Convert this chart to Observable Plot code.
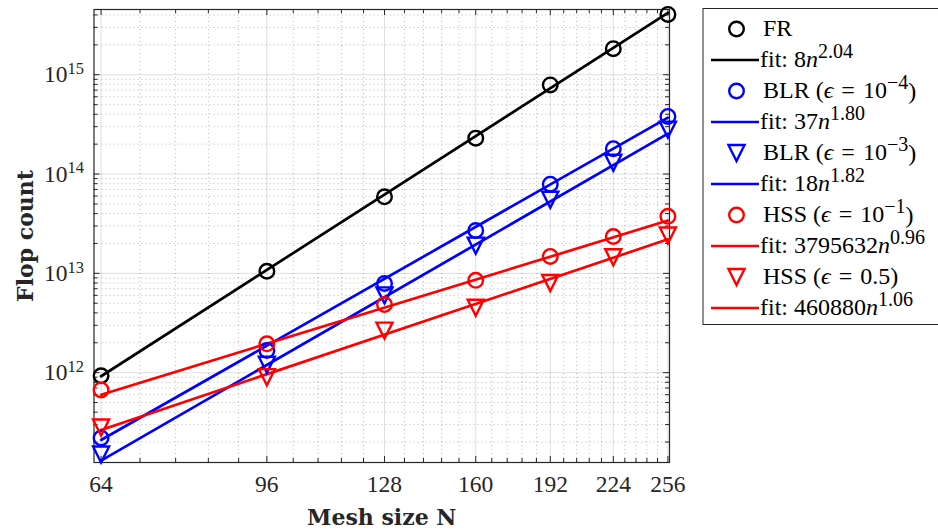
<!DOCTYPE html>
<html>
<head>
<meta charset="utf-8">
<script src="https://cdn.jsdelivr.net/npm/d3@7"></script>
<script src="https://cdn.jsdelivr.net/npm/@observablehq/plot@0.6"></script>
<style>
  html, body { margin: 0; padding: 0; background: #fff; }
  #chart svg { display: block; }
</style>
</head>
<body>
<div id="chart"></div>
<script>
// ---------------- data ----------------
const meshSizes = [64, 96, 128, 160, 192, 224, 256];

const flopsFR     = [9.3e11, 1.05e13, 5.9e13, 2.3e14, 7.9e14, 1.83e15, 4.05e15];
const flopsBLR4   = [2.2e11, 1.67e12, 7.9e12, 2.7e13, 7.9e13, 1.8e14, 3.8e14];
const flopsBLR3   = [1.5e11, 1.2e12, 6.0e12, 1.9e13, 5.5e13, 1.3e14, 2.8e14];
const flopsHSS1   = [6.7e11, 1.95e12, 4.85e12, 8.5e12, 1.48e13, 2.35e13, 3.75e13];
const flopsHSS5   = [2.8e11, 9.0e11, 2.65e12, 4.5e12, 8.0e12, 1.45e13, 2.4e13];

// fitted power-law lines, end points at N = 64 and N = 256
const fitSizes    = [64, 256];
const fitFR       = [9.2e11, 4.2e15];
const fitBLR4     = [2.1e11, 3.7e14];
const fitBLR3     = [1.3e11, 2.55e14];
const fitHSS1     = [6.0e11, 3.4e13];
const fitHSS5     = [2.65e11, 2.2e13];

const xTickValues = [64, 96, 128, 160, 192, 224, 256];
const yTickValues = [1e12, 1e13, 1e14, 1e15];

const seriesNames = ["FR", "BLR (ϵ = 10^{−4})", "BLR (ϵ = 10^{−3})", "HSS (ϵ = 10^{−1})", "HSS (ϵ = 0.5)"];
const fitLabels   = ["fit: 8n^{2.04}", "fit: 37n^{1.80}", "fit: 18n^{1.82}", "fit: 3795632n^{0.96}", "fit: 460880n^{1.06}"];

// ---------------- styling ----------------
const W = 938, H = 530;
const mL = 93.5, mR = 269, mT = 9, mB = 68;
const innerW = W - mL - mR, innerH = H - mT - mB;
const axisColor = "#262626";
const serif = "'Liberation Serif', 'DejaVu Serif', serif";
const boldSerif = "'DejaVu Serif', 'Liberation Serif', serif";

const triangleDown = {
  draw(ctx, size) {
    const r = Math.sqrt(size / Math.PI);
    const a = r * 1.1;
    ctx.moveTo(-a, -a);
    ctx.lineTo(a, -a);
    ctx.lineTo(0, a);
    ctx.closePath();
  }
};

const series = [
  {name: seriesNames[0], fitLabel: fitLabels[0], values: flopsFR,   fit: fitFR,   color: "#000000", symbol: "circle"},
  {name: seriesNames[1], fitLabel: fitLabels[1], values: flopsBLR4, fit: fitBLR4, color: "#0000ff", symbol: "circle"},
  {name: seriesNames[2], fitLabel: fitLabels[2], values: flopsBLR3, fit: fitBLR3, color: "#0000ff", symbol: triangleDown},
  {name: seriesNames[3], fitLabel: fitLabels[3], values: flopsHSS1, fit: fitHSS1, color: "#ff0000", symbol: "circle"},
  {name: seriesNames[4], fitLabel: fitLabels[4], values: flopsHSS5, fit: fitHSS5, color: "#ff0000", symbol: triangleDown}
];

// minor ticks
const xMinor = d3.range(0, 31).map(k => 64 + 6.4 * k).filter(v => Math.abs(v / 32 - Math.round(v / 32)) > 1e-6 && v < 256);
const yDomain = [1.245e11, 4.54e15];
const yMinor = [];
for (let e = 11; e <= 15; e++) for (let m = 2; m <= 9; m++) {
  const v = m * Math.pow(10, e);
  if (v > yDomain[0] && v < yDomain[1]) yMinor.push(v);
}

const marks = [
  // minor grid (dotted)
  Plot.gridX(xMinor, {stroke: axisColor, strokeOpacity: 0.33, strokeDasharray: "1,3"}),
  Plot.gridY(yMinor, {stroke: axisColor, strokeOpacity: 0.33, strokeDasharray: "1,3"}),
  // major grid
  Plot.gridX(xTickValues, {stroke: axisColor, strokeOpacity: 0.15}),
  Plot.gridY(yTickValues, {stroke: axisColor, strokeOpacity: 0.15}),
  // box
  Plot.frame({stroke: axisColor, strokeWidth: 1.2}),
  // inward ticks
  Plot.tickX(xTickValues, {x: d => d, stroke: axisColor, insetTop: innerH - 6}),
  Plot.tickX(xTickValues, {x: d => d, stroke: axisColor, insetBottom: innerH - 6}),
  Plot.tickX(xMinor, {x: d => d, stroke: axisColor, insetTop: innerH - 4}),
  Plot.tickX(xMinor, {x: d => d, stroke: axisColor, insetBottom: innerH - 4}),
  Plot.tickY(yTickValues, {y: d => d, stroke: axisColor, insetRight: innerW - 6}),
  Plot.tickY(yTickValues, {y: d => d, stroke: axisColor, insetLeft: innerW - 6}),
  Plot.tickY(yMinor, {y: d => d, stroke: axisColor, insetRight: innerW - 4}),
  Plot.tickY(yMinor, {y: d => d, stroke: axisColor, insetLeft: innerW - 4}),
  // axes (labels only)
  Plot.axisX(xTickValues, {tickSize: 0, tickPadding: 13, label: null, tickFormat: d => String(d)}),
  Plot.axisY(yTickValues, {tickSize: 0, tickPadding: 10, label: null, tickFormat: d => String(Math.round(Math.log10(d)))}),
  Plot.text(["Mesh size N"], {text: d => d, frameAnchor: "bottom", textAnchor: "middle", lineAnchor: "bottom", dy: 62, fontFamily: boldSerif, fontWeight: "bold", fontSize: 22, fill: axisColor}),
  Plot.text(["Flop count"], {text: d => d, frameAnchor: "left", textAnchor: "middle", lineAnchor: "bottom", rotate: -90, dx: -61, fontFamily: boldSerif, fontWeight: "bold", fontSize: 22, fill: axisColor})
];

for (const s of series) {
  const fitRows = fitSizes.map((n, i) => ({N: n, flops: s.fit[i]}));
  marks.push(Plot.line(fitRows, {x: "N", y: "flops", stroke: s.color, strokeWidth: 2.7}));
}
for (const s of series) {
  const rows = meshSizes.map((n, i) => ({N: n, flops: s.values[i]}));
  marks.push(Plot.dot(rows, {x: "N", y: "flops", r: 7.3, symbol: s.symbol, stroke: s.color, strokeWidth: 2.4, fill: "none"}));
}

const svgNode = Plot.plot({
  width: W, height: H,
  marginLeft: mL, marginRight: mR, marginTop: mT, marginBottom: mB,
  style: {fontFamily: serif, fontSize: "23.5px", color: axisColor, background: "#fff", overflow: "hidden"},
  x: {type: "log", domain: [62.9, 257]},
  y: {type: "log", domain: yDomain},
  marks
});
document.getElementById("chart").append(svgNode);

const svg = d3.select(svgNode);

// superscript exponents on y tick labels
svg.selectAll('g[aria-label="y-axis tick label"] text').each(function () {
  const e = this.textContent;
  const t = d3.select(this);
  t.text("10");
  t.append("tspan").attr("dy", "-0.5em").attr("font-size", "16.5px").text(e);
});

// ---------------- legend ----------------
const supSize = "20px";
function richText(sel, label) {
  const parts = [];
  const re = /\^\{([^}]*)\}/g;
  let last = 0, m;
  while ((m = re.exec(label))) {
    parts.push({t: label.slice(last, m.index), sup: false});
    parts.push({t: m[1], sup: true});
    last = re.lastIndex;
  }
  parts.push({t: label.slice(last), sup: false});
  let raised = false;
  for (const p of parts) {
    if (!p.t) continue;
    if (p.sup) {
      sel.append("tspan").attr("dy", "-0.42em").attr("font-size", supSize).text(p.t);
      raised = true;
    } else {
      const txt = p.t.replace(/ = /g, "\u2004=\u2004");
      const chunks = txt.split(/([ϵ]|(?<=\d)n)/).filter(c => c !== "" && c !== undefined);
      let first = true;
      for (const c of chunks) {
        const ts = sel.append("tspan").text(c);
        if (c === "ϵ" || c === "n") ts.attr("font-style", "italic");
        if (first && raised) { ts.attr("dy", "0.42em"); raised = false; }
        first = false;
      }
    }
  }
}

const lg = svg.append("g").attr("font-family", serif).attr("font-size", 24)
  .attr("fill", "#000").attr("text-anchor", "start");
const rowH = 31, row0 = 29;
const legendRows = series.flatMap(s => [{kind: "dot", s}, {kind: "fit", s}]);
lg.append("rect").attr("x", 703).attr("y", 8.5).attr("width", 250).attr("height", rowH * legendRows.length + 6)
  .attr("fill", "#fff").attr("stroke", axisColor).attr("stroke-width", 1);
legendRows.forEach((r, i) => {
  const cy = row0 + rowH * i;
  if (r.kind === "dot") {
    const sym = r.s.symbol === "circle" ? d3.symbolCircle : r.s.symbol;
    lg.append("path").attr("transform", `translate(736.5,${cy})`)
      .attr("d", d3.symbol(sym, Math.PI * 7.3 * 7.3)())
      .attr("fill", "none").attr("stroke", r.s.color).attr("stroke-width", 2.4);
    richText(lg.append("text").attr("x", 763).attr("y", cy + 6.5), r.s.name);
  } else {
    lg.append("line").attr("x1", 711).attr("x2", 759).attr("y1", cy).attr("y2", cy)
      .attr("stroke", r.s.color).attr("stroke-width", 2.7);
    richText(lg.append("text").attr("x", 760).attr("y", cy + 6.5), r.s.fitLabel);
  }
});
</script>
</body>
</html>
